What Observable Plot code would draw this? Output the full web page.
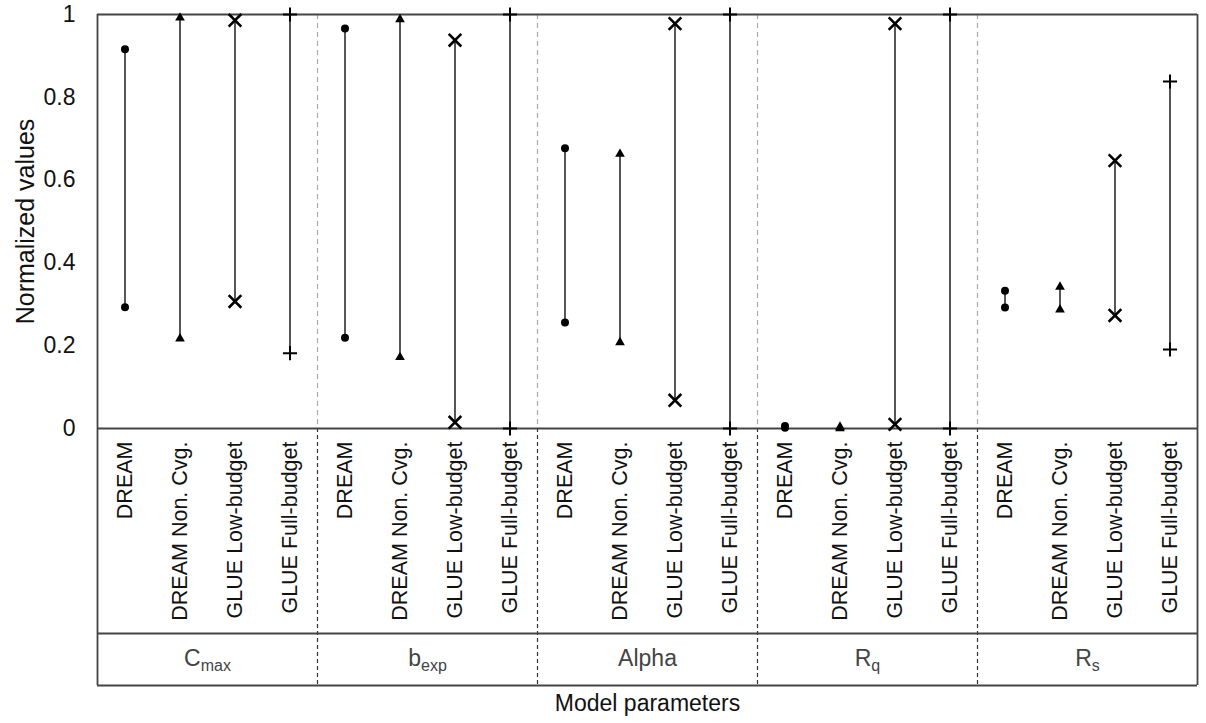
<!DOCTYPE html>
<html><head><meta charset="utf-8">
<script src="https://cdn.jsdelivr.net/npm/d3@7"></script>
<script src="https://cdn.jsdelivr.net/npm/@observablehq/plot@0.6"></script>
<style>body{margin:0;background:#fff;}</style>
</head><body><div id="chart"></div>
<script>
// ---- data ----
const groups = ["Cmax", "bexp", "Alpha", "Rq", "Rs"];
const groupMain = ["C", "b", "Alpha", "R", "R"];
const groupSub = ["max", "exp", "", "q", "s"];
const methods = ["DREAM", "DREAM Non. Cvg.", "GLUE Low-budget", "GLUE Full-budget"];
const symbols = ["circle", "triangle", "times", "plus"];
// lower / upper normalized values, group by group, method by method
const lowValues = [
  0.293, 0.217, 0.307, 0.182,
  0.219, 0.172, 0.015, 0.0,
  0.256, 0.208, 0.068, 0.0,
  0.002, 0.0, 0.010, 0.0,
  0.292, 0.287, 0.273, 0.191
];
const highValues = [
  0.916, 0.992, 0.986, 1.0,
  0.966, 0.988, 0.938, 1.0,
  0.677, 0.663, 0.978, 1.0,
  0.006, 0.004, 0.978, 1.0,
  0.333, 0.342, 0.647, 0.838
];
const yTicks = [0, 0.2, 0.4, 0.6, 0.8, 1];

// ---- layout ----
const W = 1206, H = 723, mL = 97, mR = 9, mT = 14, mB = 295;
const plotH = H - mT - mB;
const tableSplit = 205, tableBottom = 257;

const nM = methods.length;
const rows = [];
groups.forEach((g, gi) => methods.forEach((m, mi) => {
  const i = gi * nM + mi;
  rows.push({group: g, method: m, mi, pos: i + 0.5, low: lowValues[i], high: highValues[i]});
}));
const ends = rows.flatMap(r => [{pos: r.pos, v: r.low, mi: r.mi}, {pos: r.pos, v: r.high, mi: r.mi}]);
const groupRows = groups.map((g, gi) => ({group: g, main: groupMain[gi], center: gi * nM + nM / 2}));
const bounds = d3.range(1, groups.length).map(g => g * nM);
const edges = [0, groups.length * nM];

const dotStyle = [
  {symbol: "circle", r: 4, fill: "#000", stroke: "none"},
  {symbol: "triangle", r: 3.6, fill: "#000", stroke: "none"},
  {symbol: "times", r: 5.8, fill: "none", stroke: "#000", strokeWidth: 2.6},
  {symbol: "plus", r: 4.6, fill: "none", stroke: "#000", strokeWidth: 2}
];

const chart = Plot.plot({
  width: W, height: H,
  marginLeft: mL, marginRight: mR, marginTop: mT, marginBottom: mB,
  style: {fontFamily: "'Liberation Sans', Arial, sans-serif", fontSize: "23px", color: "#111", background: "#fff", overflow: "visible"},
  x: {domain: [0, groups.length * nM], axis: null},
  y: {domain: [0, 1], ticks: yTicks, tickSize: 0, tickPadding: 22, tickFormat: d => d3.format("~g")(d), label: null},
  marks: [
    Plot.ruleX(bounds, {stroke: "#aaa", strokeWidth: 1.2, strokeDasharray: "5,4"}),
    Plot.ruleX(bounds, {insetTop: plotH, insetBottom: -tableBottom, stroke: "#333", strokeWidth: 1.2, strokeDasharray: "4,3"}),
    Plot.ruleX(edges, {insetBottom: -tableBottom, stroke: "#444", strokeWidth: 1.8}),
    Plot.ruleY([0, 1], {stroke: "#444", strokeWidth: 1.8}),
    Plot.ruleY([0], {dy: tableSplit, stroke: "#444", strokeWidth: 1.8}),
    Plot.ruleY([0], {dy: tableBottom, stroke: "#444", strokeWidth: 1.8}),
    Plot.ruleX(rows, {x: "pos", y1: "low", y2: "high", stroke: "#444", strokeWidth: 1.8}),
    ...dotStyle.map((s, si) => Plot.dot(ends.filter(d => d.mi === si), {x: "pos", y: "v", ...s})),
    Plot.text(rows, {x: "pos", text: "method", frameAnchor: "bottom", dy: 13, rotate: -90, textAnchor: "end", lineAnchor: "middle", fontSize: 21.5, fill: "#111"}),
    Plot.text(groupRows, {x: "center", text: "main", frameAnchor: "bottom", dy: 230, textAnchor: "middle", lineAnchor: "middle", fontSize: 23, fill: "#444"}),
    Plot.text(["Normalized values"], {frameAnchor: "left", dx: -72, rotate: -90, textAnchor: "middle", lineAnchor: "middle", fontSize: 25, fill: "#111"}),
    Plot.text(["Model parameters"], {frameAnchor: "bottom", dy: 275, textAnchor: "middle", lineAnchor: "middle", fontSize: 23, fill: "#111"})
  ]
});

// add subscripts to the group labels (C_max, b_exp, R_q, R_s)
const svgRoot = d3.select(chart);
svgRoot.selectAll("g").filter(function() {
  const t = Array.from(this.children).filter(c => c.tagName.toLowerCase() === "text");
  return t.length === groupMain.length && t.every((c, k) => c.textContent === groupMain[k]);
}).each(function() {
  Array.from(this.children).filter(c => c.tagName.toLowerCase() === "text").forEach((c, j) => {
    if (groupSub[j]) d3.select(c).append("tspan").attr("font-size", 16).attr("dy", 5).text(groupSub[j]);
  });
});

document.getElementById("chart").appendChild(chart);
</script>
</body></html>
